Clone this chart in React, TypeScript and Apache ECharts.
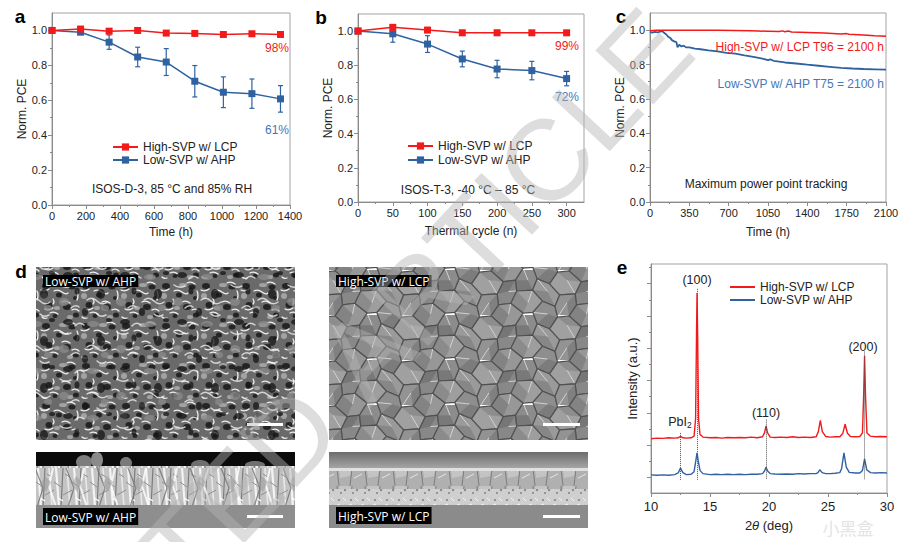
import { useEffect, useRef } from 'react';
import * as echarts from 'echarts';

const FONT = '"Liberation Sans", Arial, sans-serif';
const LABEL_FONT = '"Open Sans", "Noto Sans", sans-serif';
const RED = '#f21a1a';
const BLUE = '#2f62a1';
const BLUE_TEXT = '#4677b6';
const AXIS = '#8a8a8a';
const INK = '#222';

const HIGH = 'High-SVP w/ LCP';
const LOW = 'Low-SVP w/ AHP';

// a: damp heat (ISOS-D-3)
const agingHours = [0, 168, 336, 504, 672, 840, 1008, 1176, 1344];
const agingHigh = [1.0, 1.008, 0.996, 1.0, 0.985, 0.983, 0.977, 0.981, 0.977];
const agingHighErr = [0, 0.004, 0.005, 0.004, 0.004, 0.004, 0.004, 0.004, 0.004];
const agingLow = [1.0, 0.99, 0.933, 0.848, 0.819, 0.709, 0.646, 0.638, 0.608];
const agingLowErr = [0, 0.01, 0.041, 0.056, 0.077, 0.09, 0.088, 0.084, 0.076];

// b: thermal cycling (ISOS-T-3)
const cycles = [0, 50, 100, 150, 200, 250, 300];
const cycleHigh = [1.0, 1.022, 1.006, 0.99, 0.99, 0.99, 0.99];
const cycleHighErr = [0, 0.01, 0.006, 0.014, 0.014, 0.01, 0.006];
const cycleLow = [1.0, 0.984, 0.924, 0.837, 0.778, 0.769, 0.722];
const cycleLowErr = [0, 0.049, 0.049, 0.046, 0.051, 0.054, 0.042];

// c: MPP tracking
const mppHigh = [
  [0, 0.996], [60, 1.0], [150, 1.0], [300, 1.0], [450, 1.0], [600, 0.999], [750, 0.998],
  [900, 0.996], [1050, 0.994], [1150, 0.992], [1180, 0.996], [1200, 0.991], [1230, 0.995],
  [1260, 0.99], [1400, 0.987], [1550, 0.983], [1700, 0.978], [1750, 0.98], [1770, 0.976],
  [1900, 0.972], [2000, 0.968], [2100, 0.965],
];
const mppLow = [
  [0, 0.99], [20, 0.985], [40, 0.99], [70, 0.987], [90, 0.992], [110, 0.995], [125, 0.985],
  [145, 0.975], [165, 0.96], [180, 0.955], [195, 0.942], [215, 0.935], [235, 0.93], [245, 0.9],
  [260, 0.915], [280, 0.905], [300, 0.91], [320, 0.9], [350, 0.9], [400, 0.893], [450, 0.889],
  [520, 0.883], [600, 0.877], [680, 0.868], [760, 0.863], [840, 0.853], [920, 0.845],
  [1000, 0.835], [1050, 0.826], [1070, 0.83], [1100, 0.822], [1200, 0.812], [1300, 0.806],
  [1400, 0.799], [1500, 0.793], [1600, 0.787], [1700, 0.781], [1800, 0.777], [1900, 0.774],
  [2000, 0.772], [2100, 0.77],
];

// e: XRD (offset traces, arbitrary units)
const xrdHigh = [
  [10, 1.68], [10.5, 1.7], [11, 1.69], [11.5, 1.71], [12, 1.7], [12.3, 1.71], [12.5, 1.75],
  [12.7, 1.71], [13, 1.7], [13.4, 1.71], [13.65, 1.76], [13.78, 2.3], [13.86, 5.0], [13.9, 6.19],
  [13.95, 5.0], [14.03, 2.3], [14.15, 1.82], [14.4, 1.73], [15, 1.71], [15.5, 1.72], [16, 1.7],
  [16.5, 1.72], [17, 1.71], [17.5, 1.72], [18, 1.71], [18.5, 1.73], [19, 1.71], [19.45, 1.74],
  [19.62, 1.86], [19.75, 2.08], [19.88, 1.86], [20.1, 1.73], [20.5, 1.72], [21, 1.73],
  [21.5, 1.72], [22, 1.74], [22.5, 1.72], [23, 1.73], [23.5, 1.72], [24, 1.74], [24.18, 1.9],
  [24.35, 2.25], [24.52, 1.9], [24.8, 1.75], [25.2, 1.73], [25.6, 1.74], [26, 1.74],
  [26.25, 1.84], [26.45, 2.13], [26.65, 1.85], [26.9, 1.75], [27.3, 1.74], [27.7, 1.75],
  [27.92, 1.86], [28.02, 3.0], [28.1, 4.25], [28.18, 3.0], [28.3, 1.86], [28.6, 1.76],
  [29, 1.74], [29.5, 1.75], [30, 1.74],
];
const xrdLow = [
  [10, 0.56], [10.5, 0.55], [11, 0.56], [11.5, 0.55], [12, 0.57], [12.3, 0.62], [12.5, 0.77],
  [12.7, 0.63], [13, 0.57], [13.4, 0.58], [13.65, 0.66], [13.8, 1.0], [13.9, 1.24], [14.0, 1.0],
  [14.15, 0.7], [14.4, 0.6], [15, 0.57], [15.5, 0.58], [16, 0.57], [16.5, 0.58], [17, 0.57],
  [17.5, 0.58], [18, 0.57], [18.5, 0.58], [19, 0.58], [19.45, 0.6], [19.62, 0.68], [19.75, 0.8],
  [19.88, 0.68], [20.1, 0.6], [20.5, 0.59], [21, 0.58], [21.5, 0.59], [22, 0.58], [22.5, 0.6],
  [23, 0.59], [23.5, 0.6], [24, 0.6], [24.15, 0.63], [24.3, 0.72], [24.5, 0.63], [24.8, 0.6],
  [25.2, 0.6], [25.6, 0.61], [26, 0.63], [26.15, 0.75], [26.35, 1.24], [26.55, 0.8],
  [26.8, 0.64], [27.3, 0.62], [27.7, 0.62], [27.92, 0.7], [28.1, 1.06], [28.28, 0.72],
  [28.6, 0.63], [29, 0.62], [29.5, 0.63], [30, 0.62],
];
const guideAngles = [12.5, 13.9, 19.75, 28.1];
const guideTops = [1.86, 6.32, 2.27, 4.38];
const guideBottom = 0.41;

// tick values
const pceTicks = [0, 0.2, 0.4, 0.6, 0.8, 1.0];
const pceMinor = [0.1, 0.3, 0.5, 0.7, 0.9];
const agingTicks = [0, 200, 400, 600, 800, 1000, 1200, 1400];
const agingMinor = [100, 300, 500, 700, 900, 1100, 1300];
const cycleTicks = [0, 50, 100, 150, 200, 250, 300];
const cycleMinor = [25, 75, 125, 175, 225, 275];
const mppTicks = [0, 350, 700, 1050, 1400, 1750, 2100];
const mppMinor = [175, 525, 875, 1225, 1575, 1925];
const angleTicks = [10, 15, 20, 25, 30];
const angleMinor = [12.5, 17.5, 22.5, 27.5];
const intensityTicks = [0.48, 1.48, 2.48, 3.48, 4.48, 5.48, 6.48];
const intensityMinor = [0.98, 1.98, 2.98, 3.98, 4.98, 5.98, 6.98];

const pts = (xs: number[], ys: number[]) => xs.map((x, i) => [x, ys[i]]);
const spans = (xs: number[], ys: number[], es: number[]) =>
  xs.map((x, i) => [x, ys[i] - es[i], ys[i] + es[i]]);

const fmtInt = (v: number) => String(Math.round(v));
const fmt1 = (v: number) => v.toFixed(1);

function axisPair(kind: 'x' | 'y', grid: number, min: number, max: number, major: number[], minor: number[], o: any = {}) {
  const common = {
    type: 'value', gridIndex: grid, min, max,
    position: kind === 'x' ? 'bottom' : 'left',
    splitLine: { show: false },
  };
  return [
    {
      ...common,
      name: o.name,
      nameLocation: 'middle',
      nameGap: o.nameGap ?? 22,
      nameTextStyle: { fontSize: o.nameSize ?? 12, color: INK, fontFamily: FONT, rich: o.rich },
      axisLine: { show: true, onZero: false, lineStyle: { color: AXIS, width: 1 } },
      axisTick: { show: true, length: 4, customValues: major, lineStyle: { color: AXIS } },
      axisLabel: {
        show: o.labels !== false, customValues: major, margin: o.margin ?? 5,
        fontSize: o.labelSize ?? 11, color: INK, fontFamily: FONT,
        formatter: o.formatter ?? fmtInt,
      },
    },
    {
      ...common,
      axisLine: { show: false },
      axisTick: { show: true, length: 2, customValues: minor, lineStyle: { color: AXIS } },
      axisLabel: { show: false },
    },
  ];
}

function markerLine(name: string, color: string, axis: number, data: number[][], z: number) {
  return {
    name, type: 'line', xAxisIndex: axis, yAxisIndex: axis, data, z,
    symbol: 'rect', symbolSize: 7,
    lineStyle: { color, width: 1.5 }, itemStyle: { color },
  };
}

function errorBars(color: string, axis: number, data: number[][], z: number) {
  return {
    type: 'custom', xAxisIndex: axis, yAxisIndex: axis, data, z,
    renderItem: (_p: any, api: any) => {
      const x = api.value(0);
      const a = api.coord([x, api.value(1)]);
      const b = api.coord([x, api.value(2)]);
      const w = 2.5;
      const st = { stroke: color, lineWidth: 1.2 };
      return {
        type: 'group',
        children: [
          { type: 'line', shape: { x1: a[0], y1: a[1], x2: b[0], y2: b[1] }, style: st },
          { type: 'line', shape: { x1: a[0] - w, y1: a[1], x2: a[0] + w, y2: a[1] }, style: st },
          { type: 'line', shape: { x1: b[0] - w, y1: b[1], x2: b[0] + w, y2: b[1] }, style: st },
        ],
      };
    },
  };
}

function plainLine(name: string, color: string, axis: number, data: number[][], width: number, z: number, extra: any = {}) {
  return {
    name, type: 'line', xAxisIndex: axis, yAxisIndex: axis, data, z,
    symbol: 'none', showSymbol: false,
    lineStyle: { color, width }, itemStyle: { color },
    ...extra,
  };
}

// SEM textures (decoration only)
const svgUrl = (s: string) => 'data:image/svg+xml;charset=utf-8,' + encodeURIComponent(s);
const pattern = (s: string, w: number, h: number) => ({ image: svgUrl(s), repeat: 'repeat', imageWidth: w, imageHeight: h });

const porousTile = `<svg xmlns="http://www.w3.org/2000/svg" width="40" height="40">
<rect width="40" height="40" fill="#6a6a6a"/>
<g fill="#242424"><ellipse cx="6" cy="6" rx="4" ry="3"/><ellipse cx="19" cy="15" rx="3" ry="2.5"/>
<ellipse cx="32" cy="7" rx="3.5" ry="2.5"/><ellipse cx="9" cy="25" rx="3.5" ry="3"/>
<ellipse cx="27" cy="27" rx="4" ry="3"/><ellipse cx="36" cy="35" rx="3" ry="2.5"/>
<ellipse cx="15" cy="36" rx="2.5" ry="2"/><ellipse cx="35" cy="18" rx="2" ry="2"/></g>
<g fill="#a2a2a2"><ellipse cx="23" cy="5" rx="4" ry="2"/><ellipse cx="4" cy="16" rx="3" ry="3"/>
<ellipse cx="17" cy="28" rx="3" ry="2"/><ellipse cx="30" cy="37" rx="3" ry="2"/></g>
<g fill="none" stroke="#ededed" stroke-width="1.3" stroke-linecap="round">
<path d="M1 10 Q5 12 9 9"/><path d="M14 11 Q18 9 22 12 T28 13"/><path d="M27 3 Q31 1 35 4"/>
<path d="M5 29 Q9 31 13 28"/><path d="M22 22 Q26 20 30 23"/><path d="M32 30 Q36 28 39 31"/>
<path d="M10 33 Q14 31 18 34"/><path d="M37 11 Q39 15 37 20"/><path d="M2 37 Q4 39 7 38"/>
<path d="M13 19 Q15 22 13 24"/></g></svg>`;

const porousOverlay = `<svg xmlns="http://www.w3.org/2000/svg" width="57" height="47">
<g fill="#151515"><ellipse cx="11" cy="40" rx="5" ry="3"/><ellipse cx="44" cy="12" rx="4" ry="5"/>
<ellipse cx="28" cy="30" rx="3" ry="4"/><ellipse cx="52" cy="38" rx="3" ry="2"/><ellipse cx="20" cy="9" rx="2.5" ry="3.5"/></g>
<g fill="#8c8c8c"><ellipse cx="36" cy="42" rx="6" ry="3"/><ellipse cx="7" cy="20" rx="5" ry="4"/><ellipse cx="48" cy="26" rx="4" ry="3"/></g>
<g fill="none" stroke="#f5f5f5" stroke-width="1.5" stroke-linecap="round">
<path d="M3 3 Q8 7 14 4"/><path d="M30 18 Q35 14 40 19 T50 20"/><path d="M18 44 Q22 39 27 43"/>
<path d="M40 32 Q44 36 49 33"/><path d="M14 26 Q18 22 22 25"/></g></svg>`;

const grainShades: Record<string, [string, string, number]> = {
  '0,0': ['#8e8e8e', '#707070', 0], '39,0': ['#979797', '#777777', 2],
  '0,22.5': ['#9a9a9a', '#7a7a7a', 1], '39,22.5': ['#888888', '#6a6a6a', 3],
  '19.5,11.25': ['#a0a0a0', '#808080', 4], '58.5,11.25': ['#8c8c8c', '#6c6c6c', 1],
  '19.5,33.75': ['#939393', '#737373', 5], '58.5,33.75': ['#9e9e9e', '#7e7e7e', 2],
};
const wrap = (v: number, p: number) => ((v % p) + p) % p;
// deterministic vertex wobble so the grain net is not a perfect honeycomb
const wobble = (x: number, y: number) => {
  const u = wrap(x, 78), w = wrap(y, 45);
  return [x + 3.2 * Math.sin(u * 0.37 + w * 0.71 + 1), y + 2.6 * Math.cos(u * 0.53 - w * 0.29)];
};
function grainTile() {
  const centers: number[][] = [];
  for (const cx of [0, 39, 78]) for (const cy of [0, 22.5, 45]) centers.push([cx, cy]);
  for (const cx of [19.5, 58.5]) for (const cy of [11.25, 33.75]) centers.push([cx, cy]);
  let body = '';
  for (const [cx, cy] of centers) {
    const [base, dark, k] = grainShades[`${wrap(cx, 78)},${wrap(cy, 45)}`];
    const raw = [[cx + 13, cy], [cx + 6.5, cy + 11.25], [cx - 6.5, cy + 11.25], [cx - 13, cy], [cx - 6.5, cy - 11.25], [cx + 6.5, cy - 11.25]];
    const v = raw.map(([x, y]) => wobble(x, y).map((n) => n.toFixed(2)));
    const poly = v.map((p) => p.join(',')).join(' ');
    const c = [cx + 1.5, cy - 1];
    const facet = [c, v[k], v[(k + 1) % 6], v[(k + 2) % 6]].map((p) => p.join(',')).join(' ');
    const hi = v[(k + 3) % 6];
    body += `<polygon points="${poly}" fill="${base}"/>`;
    body += `<polygon points="${facet}" fill="${dark}" opacity="0.6"/>`;
    body += `<line x1="${c[0]}" y1="${c[1]}" x2="${hi[0]}" y2="${hi[1]}" stroke="#d2d2d2" stroke-width="1"/>`;
    body += `<polygon points="${poly}" fill="none" stroke="#505050" stroke-width="1.2"/>`;
  }
  return `<svg xmlns="http://www.w3.org/2000/svg" width="78" height="45">${body}</svg>`;
}

const streakTile = `<svg xmlns="http://www.w3.org/2000/svg" width="18" height="39">
<rect width="18" height="39" fill="#c4c4c4"/>
<path d="M2 0 L5 39" stroke="#f3f3f3" stroke-width="2.2"/><path d="M9 0 L7 39" stroke="#7c7c7c" stroke-width="1.2"/>
<path d="M13 0 L16 39" stroke="#e8e8e8" stroke-width="1.6"/>
<path d="M0 14 L7 19 M9 27 L18 22 M11 6 L16 9" stroke="#8f8f8f" stroke-width="1"/>
<path d="M4 30 L9 33" stroke="#ffffff" stroke-width="1.2"/></svg>`;

const streakOverlay = `<svg xmlns="http://www.w3.org/2000/svg" width="31" height="39">
<path d="M4 0 L12 20 L6 39" stroke="#6e6e6e" stroke-width="1.2" fill="none"/>
<path d="M22 0 L18 18 L25 39" stroke="#ffffff" stroke-width="2" fill="none"/>
<polygon points="14,8 20,14 15,24 10,16" fill="#9a9a9a" opacity="0.7"/></svg>`;

const crossGrainTile = `<svg xmlns="http://www.w3.org/2000/svg" width="28" height="18">
<rect width="28" height="18" fill="#b0b0b0"/><polygon points="3,0 16,0 14,8 4,10" fill="#c4c4c4"/>
<path d="M1 0 L3 18 M16 0 L14 18" stroke="#7d7d7d" stroke-width="1"/>
<path d="M18 10 L26 6" stroke="#e4e4e4" stroke-width="1"/></svg>`;

const speckTile = `<svg xmlns="http://www.w3.org/2000/svg" width="12" height="16">
<rect width="12" height="16" fill="#cfcfcf"/>
<circle cx="3" cy="4" r="1.1" fill="#858585"/><circle cx="9" cy="10" r="1.2" fill="#8a8a8a"/>
<circle cx="5" cy="13" r="0.9" fill="#7a7a7a"/><path d="M7 2 L10 5 M1 9 L4 8" stroke="#f2f2f2" stroke-width="1"/></svg>`;

const rect = (x: number, y: number, w: number, h: number, fill: any, z = 1, opacity = 1) => ({
  type: 'rect', shape: { x, y, width: w, height: h }, style: { fill, opacity }, z, silent: true,
});
const blob = (cx: number, cy: number, rx: number, ry: number, fill: string) => ({
  type: 'ellipse', shape: { cx, cy, rx, ry }, style: { fill }, z: 1, silent: true,
});
const text = (x: number, y: number, t: string, style: any, extra: any = {}) => ({
  type: 'text', x, y, silent: true, z: 5, ...extra,
  style: { text: t, fontFamily: FONT, fontSize: 12, fill: INK, textAlign: 'center', textVerticalAlign: 'middle', ...style },
});
const semLabel = (x: number, y: number, t: string, pad: number[]) =>
  text(x, y, t, {
    fontFamily: LABEL_FONT, fill: '#fff', backgroundColor: '#000', padding: pad,
    textAlign: 'left', textVerticalAlign: 'top',
  });

function buildOption(): any {
  const grid = [
    { left: 52, top: 13, width: 238, height: 192 },
    { left: 358, top: 14, width: 226, height: 188 },
    { left: 650, top: 13, width: 236, height: 189 },
    { left: 651, top: 264, width: 236, height: 229 },
  ].map((g) => ({ ...g, show: true, borderColor: '#a3a3a3', borderWidth: 1, backgroundColor: 'transparent', outerBoundsMode: 'none' }));

  const xAxis = [
    ...axisPair('x', 0, 0, 1400, agingTicks, agingMinor, { name: 'Time (h)', nameGap: 21 }),
    ...axisPair('x', 1, 0, 325, cycleTicks, cycleMinor, { name: 'Thermal cycle (n)', nameGap: 23 }),
    ...axisPair('x', 2, 0, 2100, mppTicks, mppMinor, { name: 'Time (h)', nameGap: 24 }),
    ...axisPair('x', 3, 10, 30, angleTicks, angleMinor, {
      name: '2{i|θ} (deg)', nameGap: 26, nameSize: 13, labelSize: 13, margin: 7,
      rich: { i: { fontStyle: 'italic', fontSize: 13, fontFamily: FONT, color: INK } },
    }),
  ];
  const yAxis = [
    ...axisPair('y', 0, 0, 1.1, pceTicks, pceMinor, { name: 'Norm. PCE', nameGap: 22, formatter: fmt1 }),
    ...axisPair('y', 1, 0, 1.1, pceTicks, pceMinor, { name: 'Norm. PCE', nameGap: 21, formatter: fmt1 }),
    ...axisPair('y', 2, 0, 1.1, pceTicks, pceMinor, { name: 'Norm. PCE', nameGap: 22, formatter: fmt1 }),
    ...axisPair('y', 3, 0, 7.09, intensityTicks, intensityMinor, { name: 'Intensity (a.u.)', nameGap: 12, nameSize: 13, labels: false }),
  ];

  const series = [
    errorBars(BLUE, 0, spans(agingHours, agingLow, agingLowErr), 2),
    errorBars(RED, 0, spans(agingHours, agingHigh, agingHighErr), 2),
    markerLine(LOW, BLUE, 0, pts(agingHours, agingLow), 3),
    markerLine(HIGH, RED, 0, pts(agingHours, agingHigh), 4),

    errorBars(BLUE, 2, spans(cycles, cycleLow, cycleLowErr), 2),
    errorBars(RED, 2, spans(cycles, cycleHigh, cycleHighErr), 2),
    markerLine(LOW, BLUE, 2, pts(cycles, cycleLow), 3),
    markerLine(HIGH, RED, 2, pts(cycles, cycleHigh), 4),

    plainLine(LOW, BLUE, 4, mppLow, 1.8, 3),
    plainLine(HIGH, RED, 4, mppHigh, 1.5, 4),

    plainLine(LOW, BLUE, 6, xrdLow, 1.4, 3),
    plainLine(HIGH, RED, 6, xrdHigh, 1.4, 4, {
      markLine: {
        silent: true, symbol: ['none', 'none'], label: { show: false },
        lineStyle: { type: 'dotted', color: '#555', width: 1 },
        data: guideAngles.map((x, i) => [{ coord: [x, guideTops[i]] }, { coord: [x, guideBottom] }]),
      },
    }),
  ];

  const legendText = { fontSize: 12, color: INK, fontFamily: FONT };
  const legend = [
    { data: [HIGH, LOW], left: 112, top: 141, orient: 'vertical', itemWidth: 25, itemHeight: 9, itemGap: 1, padding: 0, selectedMode: false, textStyle: legendText },
    { data: [HIGH, LOW], left: 407, top: 140, orient: 'vertical', itemWidth: 25, itemHeight: 9, itemGap: 2, padding: 0, selectedMode: false, textStyle: legendText },
    {
      data: [{ name: HIGH, icon: 'rect' }, { name: LOW, icon: 'rect' }], left: 730, top: 281, orient: 'vertical',
      itemWidth: 25, itemHeight: 2, itemGap: 1, padding: 0, selectedMode: false, textStyle: legendText,
    },
  ];

  const panelLetter = (x: number, y: number, t: string) => text(x, y, t, { fontSize: 19, fontWeight: 'bold', fill: '#000', fontFamily: FONT });
  const mark = { fontSize: 115, fill: '#b4b4b4', opacity: 0.45 };

  const graphic = [
    panelLetter(20, 16.5, 'a'), panelLetter(321, 17.5, 'b'), panelLetter(621, 16.5, 'c'),
    panelLetter(21, 271.5, 'd'), panelLetter(622, 267.5, 'e'),

    text(277, 48, '98%', { fill: RED }),
    text(277, 130, '61%', { fill: BLUE_TEXT }),
    text(172, 189, 'ISOS-D-3, 85 °C and 85% RH', {}),
    text(567, 46, '99%', { fill: RED }),
    text(567, 97, '72%', { fill: BLUE_TEXT }),
    text(468, 190, 'ISOS-T-3, -40 °C – 85 °C', {}),
    text(884, 47, 'High-SVP w/ LCP T96 = 2100 h', { fill: RED, textAlign: 'right' }),
    text(884, 84, 'Low-SVP w/ AHP T75 = 2100 h', { fill: BLUE_TEXT, textAlign: 'right' }),
    text(766, 184, 'Maximum power point tracking', {}),

    text(697, 280, '(100)', { fontSize: 12.5 }),
    text(766, 413, '(110)', { fontSize: 12.5 }),
    text(863, 347, '(200)', { fontSize: 12.5 }),
    text(680, 422, '{m|PbI}{s|2}', {
      rich: {
        m: { fontSize: 12.5, fontFamily: FONT, fill: INK, lineHeight: 15, verticalAlign: 'middle' },
        s: { fontSize: 8.5, fontFamily: FONT, fill: INK, lineHeight: 15, verticalAlign: 'bottom' },
      },
    }),

    // d: SEM micrographs (top view)
    rect(36, 267, 259, 173, pattern(porousTile, 40, 40)),
    rect(36, 267, 259, 173, pattern(porousOverlay, 57, 47), 1, 0.75),
    rect(329, 267, 259, 173, pattern(grainTile(), 78, 45)),
    // d: cross sections
    rect(36, 452, 259, 16, '#0b0b0b'),
    blob(84, 462, 8, 7, '#7d7d7d'), blob(97, 460, 6, 8, '#8a8a8a'), blob(126, 463, 6, 6, '#7a7a7a'),
    blob(200, 465, 9, 5, '#6e6e6e'), blob(255, 465, 10, 4, '#707070'),
    rect(36, 466, 259, 39, pattern(streakTile, 18, 39)),
    rect(36, 466, 259, 39, pattern(streakOverlay, 31, 39), 1, 0.8),
    rect(36, 505, 259, 23, '#8e8e8e'),
    rect(329, 452, 259, 17, { type: 'linear', x: 0, y: 0, x2: 0, y2: 1, colorStops: [{ offset: 0, color: '#6c6c6c' }, { offset: 1, color: '#a8a8a8' }] }),
    rect(329, 468, 259, 3, '#e0e0e0'),
    rect(329, 471, 259, 18, pattern(crossGrainTile, 28, 18)),
    rect(329, 489, 259, 16, pattern(speckTile, 12, 16)),
    rect(329, 505, 259, 23, '#8b8b8b'),
    // scale bars
    rect(247, 423, 36, 3, '#fff', 2), rect(543, 423, 37, 3, '#fff', 2),
    rect(247, 515, 36, 3, '#fff', 2), rect(543, 515, 37, 3, '#fff', 2),
    semLabel(43, 275, LOW, [0, 2, 0, 2]),
    semLabel(336, 275, HIGH, [0, 2, 0, 2]),
    semLabel(43, 508, LOW, [3, 2, 2, 2]),
    semLabel(336, 507, HIGH, [3, 2, 2, 2]),

    // faint site logo
    text(848, 527, '小黑盒', { fontFamily: '"Noto Sans CJK SC", sans-serif', fontSize: 17, fill: '#e4e4e4' }, { z: 0 }),

    // diagonal watermark
    text(505, 205, 'ARTICLE', mark, { rotation: 0.82, z: 100 }),
    text(104, 635, 'ACCEPTED', mark, { rotation: 0.82, z: 100 }),
  ];

  return { animation: false, backgroundColor: '#fff', grid, xAxis, yAxis, series, legend, graphic };
}

export default function App() {
  const chartRef = useRef<HTMLDivElement | null>(null);

  useEffect(() => {
    if (!chartRef.current) return;
    const chart = echarts.init(chartRef.current, undefined, { renderer: 'svg' });
    chart.setOption(buildOption());
    return () => {
      chart.dispose();
    };
  }, []);

  return (
    <div
      ref={chartRef}
      style={{ position: 'fixed', left: 0, top: 0, width: 904, height: 542, background: '#fff' }}
    />
  );
}
